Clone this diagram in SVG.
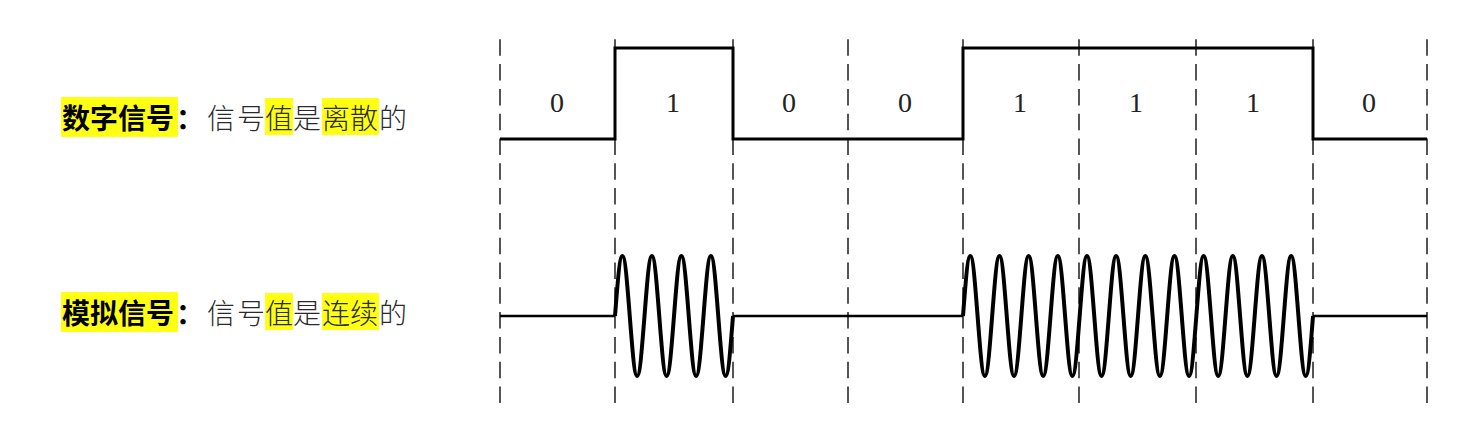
<svg xmlns="http://www.w3.org/2000/svg" width="1472" height="439" viewBox="0 0 1472 439">
<style>
.bg{fill:#ffffff}
.hl{fill:#ffff14}
.lb{font-family:"Noto Sans CJK SC","Noto Sans",sans-serif;font-size:28px;font-weight:700;fill:#000}
.tx{font-family:"Noto Sans CJK SC","Noto Sans",sans-serif;font-size:28px;font-weight:300;fill:#2a2a2a}
.num{font-family:"Liberation Serif","Times New Roman",serif;font-size:28px;fill:#222;text-anchor:middle}
.dash{stroke:#555;stroke-width:2;stroke-dasharray:16.5 8.3;fill:none}
.dig{stroke:#000;stroke-width:3;fill:none;stroke-linejoin:miter}
.base{stroke:#000;stroke-width:2.5;fill:none}
.sine{stroke:#000;stroke-width:4;fill:none;stroke-linejoin:round}
</style>
<rect class="bg" x="0" y="0" width="1472" height="439"/>

<g id="label-digital">
  <rect class="hl" x="61" y="97" width="117" height="40"/>
  <rect class="hl" x="265" y="98" width="28" height="37"/>
  <rect class="hl" x="322" y="98" width="57" height="37"/>
  <text class="lb" y="129"><tspan x="62">数</tspan><tspan x="90">字</tspan><tspan x="118">信</tspan><tspan x="146">号</tspan><tspan x="176">：</tspan></text>
  <text class="tx" y="129"><tspan x="207">信</tspan><tspan x="237">号</tspan><tspan x="265">值</tspan><tspan x="293">是</tspan><tspan x="322">离</tspan><tspan x="350">散</tspan><tspan x="379">的</tspan></text>
</g>

<g id="label-analog">
  <rect class="hl" x="61" y="292" width="117" height="40"/>
  <rect class="hl" x="265" y="293" width="28" height="37"/>
  <rect class="hl" x="322" y="293" width="57" height="37"/>
  <text class="lb" y="324"><tspan x="62">模</tspan><tspan x="90">拟</tspan><tspan x="118">信</tspan><tspan x="146">号</tspan><tspan x="176">：</tspan></text>
  <text class="tx" y="324"><tspan x="207">信</tspan><tspan x="237">号</tspan><tspan x="265">值</tspan><tspan x="293">是</tspan><tspan x="322">连</tspan><tspan x="350">续</tspan><tspan x="379">的</tspan></text>
</g>

<g id="grid">
  <line class="dash" x1="500" y1="39.3" x2="500" y2="404"/>
  <line class="dash" x1="615" y1="39.3" x2="615" y2="404"/>
  <line class="dash" x1="733" y1="39.3" x2="733" y2="404"/>
  <line class="dash" x1="848" y1="39.3" x2="848" y2="404"/>
  <line class="dash" x1="963" y1="39.3" x2="963" y2="404"/>
  <line class="dash" x1="1079" y1="39.3" x2="1079" y2="404"/>
  <line class="dash" x1="1196" y1="39.3" x2="1196" y2="404"/>
  <line class="dash" x1="1313" y1="39.3" x2="1313" y2="404"/>
  <line class="dash" x1="1427" y1="39.3" x2="1427" y2="404"/>
</g>

<g id="bits">
  <text class="num" x="557" y="112">0</text>
  <text class="num" x="673" y="112">1</text>
  <text class="num" x="789" y="112">0</text>
  <text class="num" x="905" y="112">0</text>
  <text class="num" x="1020" y="112">1</text>
  <text class="num" x="1136" y="112">1</text>
  <text class="num" x="1253" y="112">1</text>
  <text class="num" x="1369" y="112">0</text>
</g>

<g id="digital-signal">
  <path class="dig" d="M500,139 H615 V48 H733 V139 H963 V48 H1313 V139 H1427"/>
</g>

<g id="analog-signal">
  <path class="base" d="M500,316 H615 M733,316 H963 M1313,316 H1427"/>
  <path class="sine" d="M615,316 c2.68,-34.32 4.69,-60 7.375,-60
   s4.69,25.68 7.375,60 s4.69,60 7.375,60 s4.69,-25.68 7.375,-60 s4.69,-60 7.375,-60
   s4.69,25.68 7.375,60 s4.69,60 7.375,60 s4.69,-25.68 7.375,-60 s4.69,-60 7.375,-60
   s4.69,25.68 7.375,60 s4.69,60 7.375,60 s4.69,-25.68 7.375,-60 s4.69,-60 7.375,-60
   s4.69,25.68 7.375,60 s4.69,60 7.375,60 s4.69,-25.68 7.375,-60"/>
  <path class="sine" d="M963,316 c2.654,-34.32 4.638,-60 7.292,-60
   s4.638,25.68 7.292,60 s4.638,60 7.292,60 s4.638,-25.68 7.292,-60 s4.638,-60 7.292,-60
   s4.638,25.68 7.292,60 s4.638,60 7.292,60 s4.638,-25.68 7.292,-60 s4.638,-60 7.292,-60
   s4.638,25.68 7.292,60 s4.638,60 7.292,60 s4.638,-25.68 7.292,-60 s4.638,-60 7.292,-60
   s4.638,25.68 7.292,60 s4.638,60 7.292,60 s4.638,-25.68 7.292,-60 s4.638,-60 7.292,-60
   s4.638,25.68 7.292,60 s4.638,60 7.292,60 s4.638,-25.68 7.292,-60 s4.638,-60 7.292,-60
   s4.638,25.68 7.292,60 s4.638,60 7.292,60 s4.638,-25.68 7.292,-60 s4.638,-60 7.292,-60
   s4.638,25.68 7.292,60 s4.638,60 7.292,60 s4.638,-25.68 7.292,-60 s4.638,-60 7.292,-60
   s4.638,25.68 7.292,60 s4.638,60 7.292,60 s4.638,-25.68 7.292,-60 s4.638,-60 7.292,-60
   s4.638,25.68 7.292,60 s4.638,60 7.292,60 s4.638,-25.68 7.292,-60 s4.638,-60 7.292,-60
   s4.638,25.68 7.292,60 s4.638,60 7.292,60 s4.638,-25.68 7.292,-60 s4.638,-60 7.292,-60
   s4.638,25.68 7.292,60 s4.638,60 7.292,60 s4.638,-25.68 7.292,-60 s4.638,-60 7.292,-60
   s4.638,25.68 7.292,60 s4.638,60 7.292,60 s4.638,-25.68 7.292,-60"/>
</g>
</svg>
